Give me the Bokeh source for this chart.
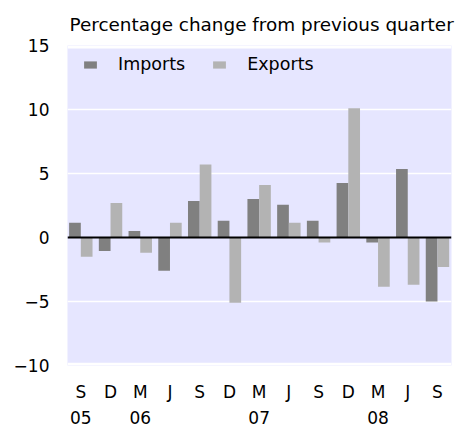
from bokeh.plotting import figure
from bokeh.models import (Range1d, FixedTicker, LinearAxis, Span, BoxAnnotation,
                          Legend, LegendItem, Title, ColumnDataSource)
from bokeh.embed import file_html
from bokeh.resources import INLINE

# ---- data ----
quarters = ["S", "D", "M", "J", "S", "D", "M", "J", "S", "D", "M", "J", "S"]
year_labels = ["05", "06", "07", "08"]
year_index = [0, 2, 6, 10]
imports = [1.15, -1.05, 0.5, -2.6, 2.85, 1.3, 3.0, 2.55, 1.3, 4.25, -0.4, 5.35, -5.0]
exports = [-1.5, 2.7, -1.2, 1.15, 5.7, -5.1, 4.1, 1.15, -0.4, 10.1, -3.85, -3.7, -2.3]
y_ticks = [-10, -5, 0, 5, 10, 15]
grid_ticks = [-5, 5, 10]

FONT = "DejaVu Sans"
FS = "17px"
BW = 0.394

idx = list(range(len(quarters)))
src = ColumnDataSource(dict(
    xi=[i + BW / 2 for i in idx],
    xe=[i + 1.5 * BW for i in idx],
    imp=imports, exp=exports,
))

p = figure(frame_width=384, frame_height=320, output_backend="svg",
           toolbar_location=None, x_range=Range1d(-0.054, 12.866),
           y_range=Range1d(-10, 15), x_axis_location=None, y_axis_location=None,
           min_border_left=67, min_border_right=21, min_border_top=44,
           min_border_bottom=0)
p.outline_line_color = None
p.background_fill_color = "#E6E6FF"
p.border_fill_color = "white"

# title
p.title = Title(text="Percentage change from previous quarter", align="left",
                text_font=FONT, text_font_size="18.4px", text_font_style="normal",
                text_color="black", offset=2, standoff=22)

# grid
p.xgrid.visible = False
p.ygrid.ticker = FixedTicker(ticks=grid_ticks)
p.ygrid.grid_line_color = "white"
p.ygrid.grid_line_width = 1.5

# white strips at top/bottom edges of frame
p.add_layout(BoxAnnotation(bottom=14.77, fill_color="white", fill_alpha=1, line_color=None))
p.add_layout(BoxAnnotation(top=-9.79, fill_color="white", fill_alpha=1, line_color=None))

r_imp = p.vbar(x="xi", top="imp", bottom=0, width=BW, source=src,
               fill_color="#808080", line_color=None)
r_exp = p.vbar(x="xe", top="exp", bottom=0, width=BW, source=src,
               fill_color="#B3B3B3", line_color=None)

p.add_layout(Span(location=0, dimension="width", line_color="black", line_width=2))

# y axis
yax = LinearAxis(ticker=FixedTicker(ticks=y_ticks))
yax.axis_line_color = None
yax.major_tick_line_color = None
yax.minor_tick_line_color = None
yax.major_tick_out = 0
yax.major_label_standoff = 18
yax.major_label_text_font = FONT
yax.major_label_text_font_size = FS
yax.major_label_text_color = "black"
p.add_layout(yax, "left")

# x axis: quarter letters
tick_pos = [i + BW for i in idx]
xax = LinearAxis(ticker=FixedTicker(ticks=tick_pos),
                 major_label_overrides={t: q for t, q in zip(tick_pos, quarters)})
# x axis: years
ypos = [year_index[k] + BW for k in range(len(year_labels))]
xax2 = LinearAxis(ticker=FixedTicker(ticks=ypos),
                  major_label_overrides={t: y for t, y in zip(ypos, year_labels)})
for ax, so in ((xax, 16), (xax2, 6)):
    ax.axis_line_color = None
    ax.major_tick_line_color = None
    ax.minor_tick_line_color = None
    ax.major_tick_out = 0
    ax.major_label_standoff = so
    ax.major_label_text_font = FONT
    ax.major_label_text_font_size = FS
    ax.major_label_text_color = "black"
    p.add_layout(ax, "below")

legend = Legend(items=[LegendItem(label="Imports", renderers=[r_imp]),
                       LegendItem(label="Exports", renderers=[r_exp])],
                orientation="horizontal", location=(15, 291),
                glyph_width=16, glyph_height=9, label_standoff=20, spacing=26,
                label_text_font=FONT, label_text_font_size="17.5px",
                label_text_color="black", label_height=20,
                padding=0, margin=0, border_line_color=None,
                background_fill_alpha=0)
p.add_layout(legend, "center")

open("out.html", "w").write(file_html(p, INLINE))
